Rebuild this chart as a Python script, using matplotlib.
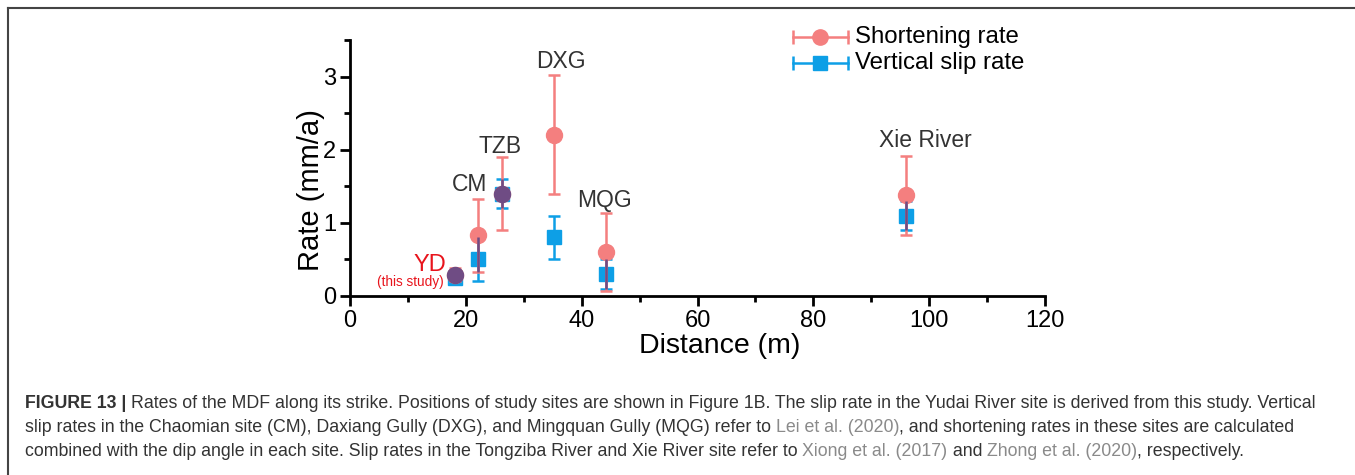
import matplotlib
matplotlib.use("Agg")
import matplotlib.pyplot as plt
from matplotlib.lines import Line2D
import numpy as np

plt.rcParams['font.family'] = ['Liberation Sans', 'DejaVu Sans']

# ---------------- data ----------------
sites = ["YD", "CM", "TZB", "DXG", "MQG", "Xie River"]
distance = [18.1, 22.1, 26.2, 35.2, 44.2, 96.0]

short_rate = [0.29, 0.83, 1.40, 2.20, 0.60, 1.38]
short_lo = [0.20, 0.33, 0.90, 1.39, 0.07, 0.83]
short_hi = [0.38, 1.33, 1.90, 3.02, 1.13, 1.91]

vert_rate = [0.24, 0.50, 1.40, 0.80, 0.30, 1.10]
vert_lo = [0.20, 0.20, 1.20, 0.50, 0.10, 0.90]
vert_hi = [0.30, 0.80, 1.60, 1.10, 0.50, 1.30]

xticks = [0, 20, 40, 60, 80, 100, 120]
yticks = [0, 1, 2, 3]

PINK = "#f47f7f"
BLUE = "#0d9fe6"
PURPLE = "#6f4c84"

fig = plt.figure(figsize=(13.55, 4.75), dpi=100)
ax = fig.add_axes([350/1355, 1-296/475, 695/1355, 256/475])

d = np.array(distance)
s = np.array(short_rate); slo = np.array(short_lo); shi = np.array(short_hi)
v = np.array(vert_rate); vlo = np.array(vert_lo); vhi = np.array(vert_hi)

# vertical slip rate (blue squares)
ax.errorbar(d, v, yerr=[v - vlo, vhi - v], fmt='s', color=BLUE, ms=10,
            ecolor=BLUE, elinewidth=1.8, capsize=4.5, capthick=1.8, zorder=3)
# shortening rate (pink circles)
ax.errorbar(d, s, yerr=[s - slo, shi - s], fmt='o', color=PINK, ms=11.5,
            ecolor=PINK, elinewidth=1.8, capsize=4.5, capthick=1.8, zorder=4)

# overlap of both error ranges (drawn darker, as blended)
ov_lo = np.maximum(slo, vlo)
ov_hi = np.minimum(shi, vhi)
mask = ov_hi > ov_lo
ax.vlines(d[mask], ov_lo[mask], ov_hi[mask], color=PURPLE, lw=1.8, zorder=5)
close = np.abs(s - v) < 0.1
ax.plot(d[close], s[close], 'o', color=PURPLE, ms=11.5, zorder=6)

ax.set_xlim(0, 120)
ax.set_ylim(0, 3.5)
ax.set_xticks(xticks)
ax.set_yticks(yticks)
ax.set_xticks(np.arange(10, 120, 20), minor=True)
ax.set_yticks(np.arange(0.5, 3.6, 1.0), minor=True)
for sp in ['top', 'right']:
    ax.spines[sp].set_visible(False)
for sp in ['left', 'bottom']:
    ax.spines[sp].set_linewidth(2)
ax.tick_params(which='major', direction='out', length=7, width=2, labelsize=17,
               colors='black', pad=3)
ax.tick_params(which='minor', direction='out', length=4, width=2)
ax.set_xlabel("Distance (m)", fontsize=20.5)
ax.set_ylabel("Rate (mm/a)", fontsize=21)
ax.xaxis.set_label_coords(0.532, -0.196)
ax.yaxis.set_label_coords(-0.0555, 0.414)
ax.xaxis.label.set_va('center')
ax.yaxis.label.set_va('center')

# site labels
lab_pos = {"CM": (20.7, 1.52), "TZB": (25.9, 2.05), "DXG": (36.4, 3.2),
           "MQG": (44.0, 1.31), "Xie River": (99.3, 2.12)}
for name, (x, y) in lab_pos.items():
    ax.text(x, y, name, fontsize=16.5, color="#333333", ha='center', va='center')
ax.text(13.8, 0.42, "YD", fontsize=17, color="#e8141c", ha='center', va='center')
ax.text(10.4, 0.19, "(this study)", fontsize=9.8, color="#e8141c", ha='center', va='center')

# legend drawn manually in figure coordinates
def leg_row(yfig, color, marker, ms, label):
    x1, x2, xm = 793/1355, 848/1355, 820/1355
    fig.add_artist(Line2D([x1, x2], [yfig, yfig], color=color, lw=1.8,
                          transform=fig.transFigure))
    fig.add_artist(Line2D([x1, x2], [yfig, yfig], color=color, lw=0, marker='|',
                          ms=10, mew=1.8, transform=fig.transFigure))
    fig.add_artist(Line2D([xm], [yfig], color=color, lw=0, marker=marker,
                          ms=ms, transform=fig.transFigure))
    fig.text(855/1355, yfig, label, fontsize=17.3, va='center', ha='left', color='black')

leg_row(1-37/475, PINK, 'o', 11, "Shortening rate")
leg_row(1-63/475, BLUE, 's', 9.5, "Vertical slip rate")

# frame lines
fig.add_artist(Line2D([8/1355, 1], [1-8/475, 1-8/475], color="#444444", lw=1.5,
                      transform=fig.transFigure))
fig.add_artist(Line2D([8/1355, 8/1355], [0, 1-8/475], color="#444444", lw=1.5,
                      transform=fig.transFigure))

# caption with multi-coloured segments
TXT = "#333333"
LINK = "#8a8a8a"
cap_lines = [
    [("FIGURE 13 | ", TXT, 'bold'),
     ("Rates of the MDF along its strike. Positions of study sites are shown in Figure 1B. The slip rate in the Yudai River site is derived from this study. Vertical", TXT, 'normal')],
    [("slip rates in the Chaomian site (CM), Daxiang Gully (DXG), and Mingquan Gully (MQG) refer to ", TXT, 'normal'),
     ("Lei et al. (2020)", LINK, 'normal'),
     (", and shortening rates in these sites are calculated", TXT, 'normal')],
    [("combined with the dip angle in each site. Slip rates in the Tongziba River and Xie River site refer to ", TXT, 'normal'),
     ("Xiong et al. (2017)", LINK, 'normal'),
     (" and ", TXT, 'normal'),
     ("Zhong et al. (2020)", LINK, 'normal'),
     (", respectively.", TXT, 'normal')],
]
cap_y = [403, 428, 452]
capfam = ['Liberation Sans', 'DejaVu Sans']
renderer = fig.canvas.get_renderer()
for segs, ypx in zip(cap_lines, cap_y):
    xpx = 25
    for txt, col, wt in segs:
        t = fig.text(xpx/1355, 1-ypx/475, txt, fontsize=12.75, color=col,
                     fontweight=wt, va='center', ha='left', family=capfam)
        bb = t.get_window_extent(renderer=renderer)
        xpx += bb.width

fig.savefig("out.png", dpi=100)
